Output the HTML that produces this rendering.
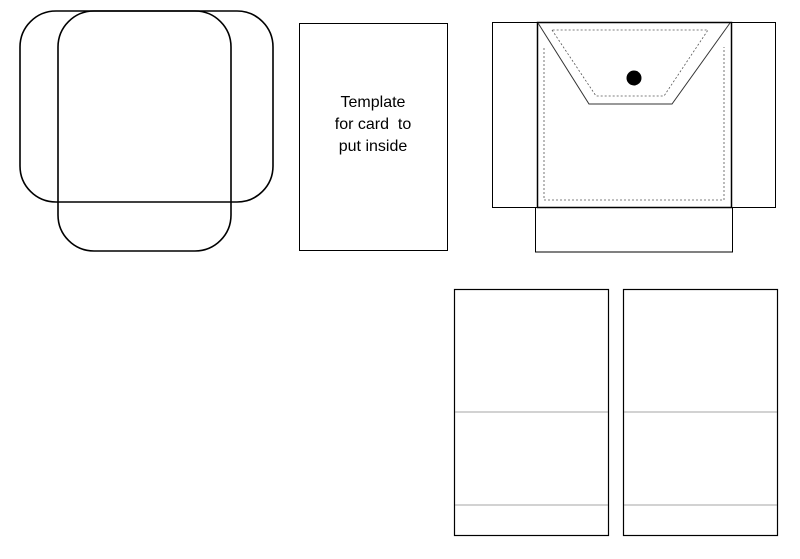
<!DOCTYPE html>
<html><head><style>body{margin:0;background:#fff}</style></head><body>
<svg width="800" height="554" viewBox="0 0 800 554" xmlns="http://www.w3.org/2000/svg">
<g fill="none" stroke="#000" stroke-width="1.6">
<rect x="20" y="11" width="253" height="191" rx="36"/>
<rect x="58" y="11" width="173" height="240" rx="36"/>
</g>
<rect x="299.5" y="23.5" width="148" height="227" fill="none" stroke="#000" stroke-width="1"/>
<g font-family="Liberation Sans, sans-serif" font-size="16" text-anchor="middle" fill="#000">
<text x="373" y="107">Template</text>
<text x="373" y="129">for card&#160; to</text>
<text x="373" y="151">put inside</text>
</g>
<g fill="none" stroke="#000" stroke-width="1">
<rect x="492.5" y="22.5" width="45" height="185"/>
<rect x="731.5" y="22.5" width="44" height="185"/>
<rect x="535.5" y="207.5" width="197" height="44.5"/>
<rect x="537.5" y="22.5" width="194" height="185" stroke-width="1.5"/>
<polyline points="538,23 589,104 672,104 730,23" stroke="#333"/>
</g>
<g fill="none" stroke="#555" stroke-width="0.8" stroke-dasharray="2,2">
<polyline points="552,30 596,96 664,96 708,30 552,30"/>
<polyline points="544,48 544,200 724,200 724,47"/>
</g>
<ellipse cx="634" cy="78" rx="7.5" ry="7.5" fill="#000"/>
<g fill="none" stroke="#000" stroke-width="1.2">
<rect x="454.5" y="289.5" width="154" height="246"/>
<rect x="623.5" y="289.5" width="154" height="246"/>
</g>
<g stroke="#888" stroke-width="0.8">
<line x1="455" y1="412" x2="608" y2="412"/>
<line x1="455" y1="505" x2="608" y2="505"/>
<line x1="624" y1="412" x2="777" y2="412"/>
<line x1="624" y1="505" x2="777" y2="505"/>
</g>
</svg>
</body></html>
